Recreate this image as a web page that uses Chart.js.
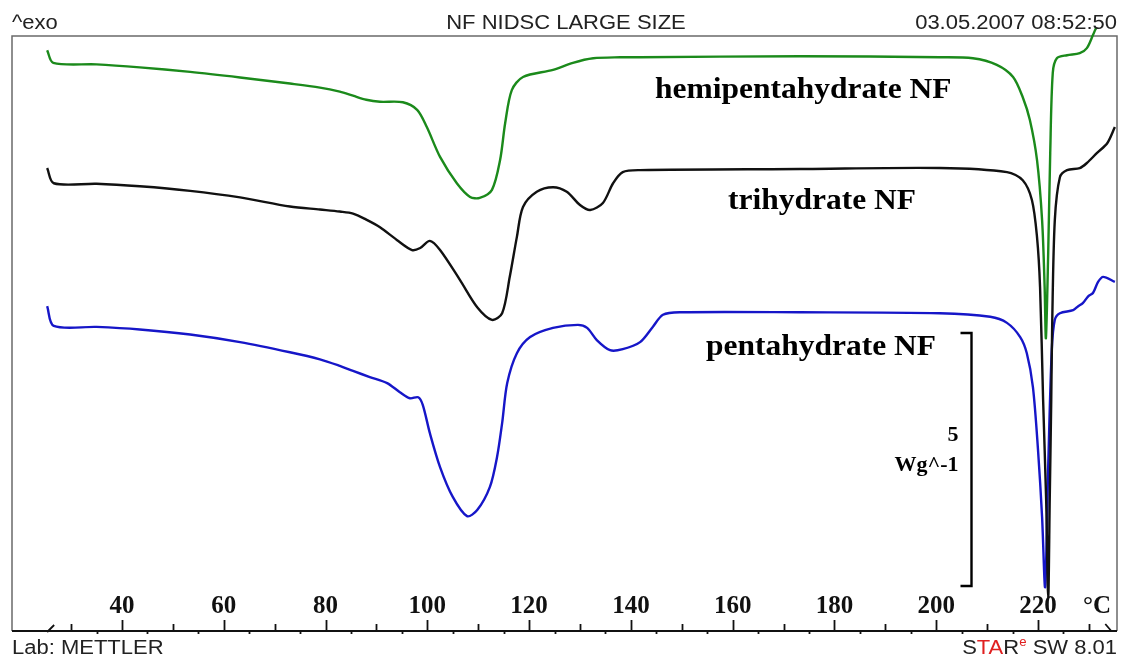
<!DOCTYPE html>
<html>
<head>
<meta charset="utf-8">
<title>NF NIDSC LARGE SIZE</title>
<script src="https://cdn.jsdelivr.net/npm/chart.js@4.4.1/dist/chart.umd.min.js"></script>
<style>
  html, body { margin: 0; padding: 0; background: #fff; }
  #wrap { width: 1123px; height: 659px; }
</style>
</head>
<body>
<div id="wrap"><canvas id="dsc" width="1123" height="659"></canvas></div>
<script>
// DSC traces: temperature (°C) against heat flow (W/g, curves stacked)
const hemiTemp = [25.3, 26.5, 35.0, 43.5, 53.4, 63.2, 73.0, 78.9, 82.8, 85.4, 88.0, 90.7, 95.2, 98.0, 99.9, 102.5, 105.8, 108.4, 110.3, 112.7, 114.3, 115.3, 116.6, 118.8, 124.7, 128.6, 132.6, 137.9, 141.8, 173.2, 200.7, 207.2, 211.9, 215.1, 217.0, 218.4, 219.8, 220.8, 221.3, 221.55, 222.0, 222.4, 222.9, 223.7, 225.7, 228.2, 229.6, 230.8, 231.4];
const hemiFlow = [11.48, 11.23, 11.20, 11.14, 11.05, 10.94, 10.82, 10.74, 10.66, 10.58, 10.50, 10.46, 10.45, 10.30, 9.96, 9.37, 8.85, 8.58, 8.56, 8.72, 9.31, 10.04, 10.69, 10.95, 11.09, 11.23, 11.32, 11.34, 11.34, 11.36, 11.34, 11.32, 11.19, 10.95, 10.55, 10.10, 9.31, 8.12, 6.80, 5.79, 7.47, 9.45, 11.03, 11.32, 11.38, 11.42, 11.52, 11.78, 11.92];

const triTemp = [25.3, 26.6, 35.0, 43.5, 53.4, 63.2, 73.0, 78.9, 82.8, 85.4, 88.0, 90.7, 94.0, 97.0, 98.6, 100.5, 102.5, 106.4, 109.8, 112.7, 114.7, 116.2, 117.6, 118.8, 121.5, 124.7, 127.4, 130.0, 132.0, 134.5, 136.5, 138.4, 141.8, 173.2, 200.7, 213.9, 217.0, 218.8, 219.8, 220.4, 221.0, 221.6, 222.0, 222.3, 222.6, 222.8, 223.3, 224.3, 225.7, 228.2, 229.6, 231.6, 233.6, 235.1];
const triFlow = [9.15, 8.85, 8.84, 8.79, 8.70, 8.57, 8.39, 8.33, 8.29, 8.25, 8.13, 7.98, 7.73, 7.53, 7.57, 7.71, 7.53, 6.94, 6.40, 6.15, 6.28, 7.00, 7.79, 8.38, 8.68, 8.77, 8.68, 8.42, 8.32, 8.46, 8.85, 9.07, 9.11, 9.13, 9.15, 9.07, 8.91, 8.52, 7.79, 6.80, 4.57, 2.59, 0.65, 2.59, 4.57, 6.15, 8.12, 8.97, 9.11, 9.15, 9.25, 9.45, 9.64, 9.96];

const pentaTemp = [25.3, 26.6, 35.0, 43.5, 53.4, 63.2, 73.0, 78.9, 82.8, 85.4, 88.7, 92.1, 94.6, 96.6, 98.2, 99.1, 100.5, 102.5, 105.0, 107.8, 109.8, 112.3, 113.7, 114.7, 115.7, 117.6, 120.2, 124.7, 129.6, 131.4, 133.3, 135.9, 138.4, 141.8, 144.3, 146.3, 149.6, 173.2, 200.7, 210.6, 213.9, 216.5, 217.8, 219.0, 220.0, 220.8, 221.4, 222.0, 222.7, 223.3, 224.3, 226.9, 227.9, 228.8, 229.9, 230.8, 231.8, 232.8, 235.1];
const pentaFlow = [6.42, 6.03, 6.01, 5.96, 5.86, 5.71, 5.51, 5.37, 5.24, 5.14, 5.02, 4.90, 4.72, 4.60, 4.62, 4.47, 3.91, 3.24, 2.65, 2.27, 2.39, 2.85, 3.44, 4.11, 4.90, 5.49, 5.81, 5.99, 6.05, 5.99, 5.75, 5.55, 5.57, 5.71, 6.01, 6.25, 6.30, 6.30, 6.28, 6.21, 6.09, 5.81, 5.49, 4.82, 3.58, 2.25, 0.87, 3.24, 5.55, 6.15, 6.28, 6.34, 6.42, 6.48, 6.62, 6.68, 6.90, 7.00, 6.90];

const seriesNames = ['hemipentahydrate NF', 'trihydrate NF', 'pentahydrate NF'];
const seriesColors = ['#1b8a1b', '#111111', '#1616c8'];

// temperature axis: labelled every 20 °C, ticks every 5 °C
const tempTicks = [40, 60, 80, 100, 120, 140, 160, 180, 200, 220];
const minorStart = 30, minorEnd = 230;
const axisStart = 25.3, axisEnd = 234.4;

// 5 W/g scale bar
const barTemp = 206.8;
const barFrom = 0.89, barSize = 5;

const toPoints = (xs, ys) => xs.map((x, i) => ({ x: x, y: ys[i] }));

const SANS = '"Liberation Sans", Arial, sans-serif';
const SERIF = '"Liberation Serif", "Times New Roman", serif';

function stretchText(ctx, text, x, y, align, sx) {
  ctx.save();
  ctx.translate(x, y);
  ctx.scale(sx, 1);
  ctx.textAlign = align;
  ctx.fillText(text, 0, 0);
  ctx.restore();
}

const thermoDecor = {
  id: 'thermoDecor',
  beforeDatasetsDraw(chart) {
    const { ctx, chartArea: a } = chart;
    ctx.save();
    ctx.strokeStyle = '#6a6a6a';
    ctx.lineWidth = 1.5;
    ctx.beginPath();
    ctx.moveTo(a.left, a.bottom);
    ctx.lineTo(a.left, a.top);
    ctx.lineTo(a.right, a.top);
    ctx.lineTo(a.right, a.bottom);
    ctx.stroke();
    ctx.restore();
  },
  afterDatasetsDraw(chart) {
    const { ctx, chartArea: a, scales: { x, y } } = chart;
    const base = y.getPixelForValue(0);
    ctx.save();

    // axis line and ticks
    ctx.strokeStyle = '#111';
    ctx.lineWidth = 2.2;
    ctx.beginPath();
    ctx.moveTo(a.left, base);
    ctx.lineTo(a.right, base);
    ctx.stroke();

    ctx.lineWidth = 1.8;
    ctx.beginPath();
    for (let t = minorStart; t <= minorEnd; t += 5) {
      const px = Math.round(x.getPixelForValue(t)) + 0.5;
      if (t % 20 === 0) { ctx.moveTo(px, base); ctx.lineTo(px, base - 11); }
      else if (t % 10 === 0) { ctx.moveTo(px, base); ctx.lineTo(px, base - 7); }
      else { ctx.moveTo(px, base); ctx.lineTo(px, base + 3); }
    }
    const s0 = x.getPixelForValue(axisStart), s1 = x.getPixelForValue(axisEnd);
    ctx.moveTo(s0, base + 1); ctx.lineTo(s0 + 7, base - 6);
    ctx.moveTo(s1 - 6, base - 7); ctx.lineTo(s1, base);
    ctx.stroke();

    ctx.fillStyle = '#111';
    ctx.font = 'bold 25px ' + SERIF;
    ctx.textBaseline = 'alphabetic';
    tempTicks.forEach(t => stretchText(ctx, String(t), x.getPixelForValue(t), base - 18, 'center', 1));
    stretchText(ctx, '°C', a.right - 34, base - 18, 'left', 1);

    // header and footer
    ctx.fillStyle = '#222';
    ctx.font = '20px ' + SANS;
    stretchText(ctx, '^exo', a.left, 29, 'left', 1.1);
    stretchText(ctx, 'NF NIDSC LARGE SIZE', 566, 29, 'center', 1.1);
    stretchText(ctx, '03.05.2007 08:52:50', a.right, 29, 'right', 1.1);
    stretchText(ctx, 'Lab: METTLER', a.left, 654, 'left', 1.1);

    const parts = [
      { t: 'S', c: '#222', f: '20px ' + SANS, dy: 0 },
      { t: 'TA', c: '#e02020', f: '20px ' + SANS, dy: 0 },
      { t: 'R', c: '#222', f: '20px ' + SANS, dy: 0 },
      { t: 'e', c: '#e02020', f: '12px ' + SANS, dy: -8 },
      { t: ' SW 8.01', c: '#222', f: '20px ' + SANS, dy: 0 }
    ];
    const sx = 1.1;
    let total = 0;
    parts.forEach(p => { ctx.font = p.f; p.w = ctx.measureText(p.t).width * sx; total += p.w; });
    let cx = a.right - total;
    parts.forEach(p => {
      ctx.font = p.f;
      ctx.fillStyle = p.c;
      stretchText(ctx, p.t, cx, 654 + p.dy, 'left', sx);
      cx += p.w;
    });

    // curve names
    ctx.fillStyle = '#000';
    ctx.font = 'bold 30px ' + SERIF;
    stretchText(ctx, seriesNames[0], 655, 98, 'left', 1.05);
    stretchText(ctx, seriesNames[1], 728, 209, 'left', 1.05);
    stretchText(ctx, seriesNames[2], 706, 355, 'left', 1.05);

    // scale bar
    const bx = Math.round(x.getPixelForValue(barTemp)) + 0.5;
    const by0 = y.getPixelForValue(barFrom), by1 = y.getPixelForValue(barFrom + barSize);
    ctx.strokeStyle = '#000';
    ctx.lineWidth = 2.4;
    ctx.beginPath();
    ctx.moveTo(bx - 11, by1); ctx.lineTo(bx, by1); ctx.lineTo(bx, by0); ctx.lineTo(bx - 11, by0);
    ctx.stroke();
    ctx.font = 'bold 22px ' + SERIF;
    stretchText(ctx, String(barSize), bx - 13, 441, 'right', 1);
    stretchText(ctx, 'Wg^-1', bx - 13, 471, 'right', 1);

    ctx.restore();
  }
};

new Chart(document.getElementById('dsc'), {
  type: 'scatter',
  data: {
    datasets: [
      { label: seriesNames[0], data: toPoints(hemiTemp, hemiFlow), borderColor: seriesColors[0] },
      { label: seriesNames[1], data: toPoints(triTemp, triFlow), borderColor: seriesColors[1] },
      { label: seriesNames[2], data: toPoints(pentaTemp, pentaFlow), borderColor: seriesColors[2] }
    ].map(d => Object.assign(d, {
      showLine: true,
      borderWidth: 2.4,
      pointRadius: 0,
      tension: 0.3,
      clip: false
    }))
  },
  options: {
    responsive: false,
    animation: false,
    layout: { padding: { left: 12, right: 6, top: 36, bottom: 28 } },
    scales: {
      x: { type: 'linear', min: 18.39, max: 235.52, display: false },
      y: { min: 0, max: 11.76, display: false }
    },
    plugins: { legend: { display: false }, tooltip: { enabled: false } }
  },
  plugins: [thermoDecor]
});
</script>
</body>
</html>
